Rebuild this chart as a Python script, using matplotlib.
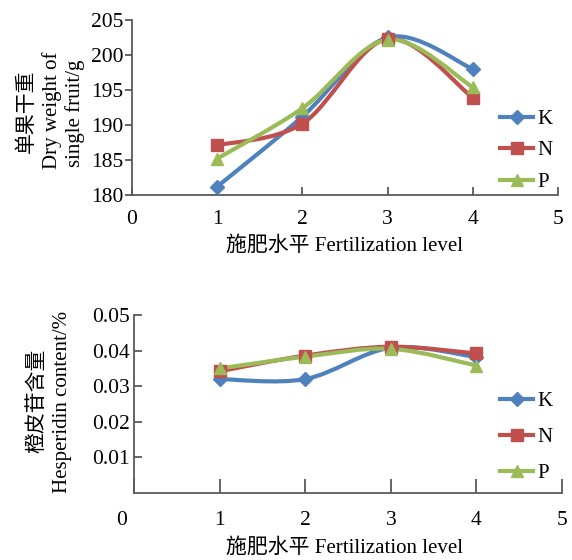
import matplotlib
matplotlib.use("Agg")
import matplotlib.pyplot as plt
from matplotlib.path import Path
from matplotlib.patches import PathPatch
from matplotlib.transforms import ScaledTranslation

plt.rcParams['font.family'] = ['Liberation Serif', 'Noto Sans CJK SC']

# data
levels = [1, 2, 3, 4]
series = ["K", "N", "P"]
dry_weight = {
    "K": [181.2, 191.2, 202.5, 198.0],
    "N": [187.1, 190.2, 202.3, 193.9],
    "P": [185.2, 192.4, 202.2, 195.4],
}
hesperidin = {
    "K": [0.0320, 0.0320, 0.0408, 0.0382],
    "N": [0.0342, 0.0386, 0.0411, 0.0392],
    "P": [0.0350, 0.0383, 0.0405, 0.0358],
}
colors = {"K": "#4F81BD", "N": "#C0504D", "P": "#9BBB59"}
markers = {"K": ("D", 7), "N": ("s", 8), "P": ("^", 9)}
spine_col = "#595959"


def smooth_path(xs, ys):
    # excel-like smoothed line drawn as cubic bezier segments
    pts = list(zip(xs, ys))
    n = len(pts)
    verts = [pts[0]]
    codes = [Path.MOVETO]
    for i in range(n - 1):
        p0 = pts[i - 1] if i > 0 else pts[i]
        p1 = pts[i]
        p2 = pts[i + 1]
        p3 = pts[i + 2] if i + 2 < n else pts[i + 1]
        c1 = (p1[0] + (p2[0] - p0[0]) / 6, p1[1] + (p2[1] - p0[1]) / 6)
        c2 = (p2[0] - (p3[0] - p1[0]) / 6, p2[1] - (p3[1] - p1[1]) / 6)
        verts += [c1, c2, p2]
        codes += [Path.CURVE4] * 3
    return Path(verts, codes)


def draw(ax, data):
    for s in series:
        ax.add_patch(PathPatch(smooth_path(levels, data[s]), fill=False,
                               edgecolor=colors[s], lw=3, zorder=2))
    for s in series:
        m, ms = markers[s]
        ax.plot(levels, data[s], linestyle="none", marker=m, ms=ms,
                color=colors[s], zorder=3)
    # legend handles
    hs = []
    for s in series:
        m, ms = markers[s]
        h, = ax.plot([], [], color=colors[s], lw=3, marker=m, ms=ms, label=s)
        hs.append(h)
    for sp in ["top", "right"]:
        ax.spines[sp].set_visible(False)
    for sp in ["left", "bottom"]:
        ax.spines[sp].set_color(spine_col)
        ax.spines[sp].set_linewidth(1.3)
    ax.set_xlim(0, 5)
    ax.set_xticks([0, 1, 2, 3, 4, 5])
    return hs


fig = plt.figure(figsize=(5.72, 5.6), dpi=100)

# top chart
ax1 = fig.add_axes([0.2308, 0.6518, 0.7447, 0.3125])
hs = draw(ax1, dry_weight)
ax1.set_ylim(180, 205)
ax1.set_yticks([180, 185, 190, 195, 200, 205])
ax1.tick_params(axis="y", direction="out", length=5, width=1.3, color=spine_col,
                labelsize=15.5, pad=1)
ax1.tick_params(axis="x", direction="in", length=6, width=1.3, color=spine_col,
                labelsize=15.5, pad=11)
ax1.legend(handles=hs, loc="upper left", bbox_to_anchor=(0.864, 0.49),
           frameon=False, fontsize=15, handlelength=1.6, handletextpad=0.2,
           labelspacing=0.58, borderaxespad=0, borderpad=0)

# bottom chart
ax2 = fig.add_axes([0.2343, 0.1196, 0.7482, 0.3179])
hs2 = draw(ax2, hesperidin)
ax2.set_ylim(0, 0.05)
ax2.set_yticks([0.01, 0.02, 0.03, 0.04, 0.05])
ax2.set_yticklabels(["0.01", "0.02", "0.03", "0.04", "0.05"])
ax2.tick_params(axis="y", direction="in", length=6, width=1.3, color=spine_col,
                labelsize=15.5, pad=3)
ax2.tick_params(axis="x", direction="in", length=10, width=1.3, color=spine_col,
                labelsize=15.5, pad=13)
lab0 = ax2.get_xticklabels()[0]
lab0.set_transform(lab0.get_transform() + ScaledTranslation(-0.12, 0, fig.dpi_scale_trans))
ax2.legend(handles=hs2, loc="upper left", bbox_to_anchor=(0.855, 0.57),
           frameon=False, fontsize=15, handlelength=1.6, handletextpad=0.2,
           labelspacing=0.79, borderaxespad=0, borderpad=0)

# axis titles
W, H = 572, 560
def ftext(x, y, s, **kw):
    fig.text(x / W, 1 - y / H, s, ha="center", va="center", fontsize=15, **kw)

ftext(27, 111, "单果干重", rotation=90)
ftext(52, 110, "Dry weight of", rotation=90)
ftext(75, 113, "single fruit/g", rotation=90)
ftext(345, 246, "施肥水平 Fertilization level")

ftext(38, 401, "橙皮苷含量", rotation=90)
ftext(63, 402, "Hesperidin content/%", rotation=90)
ftext(345, 548, "施肥水平 Fertilization level")

fig.savefig("out.png", dpi=100)
